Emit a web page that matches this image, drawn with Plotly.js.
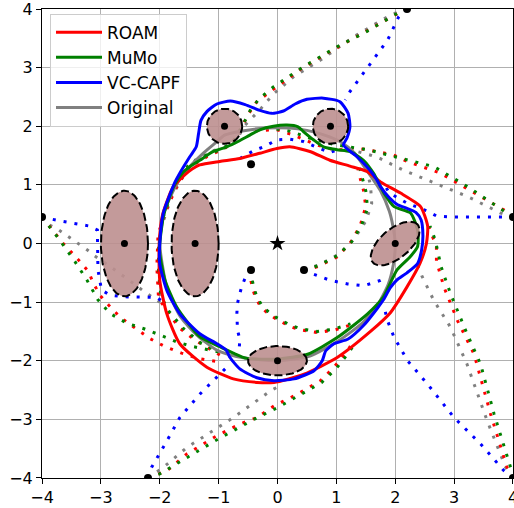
<!DOCTYPE html>
<html>
<head>
<meta charset="utf-8">
<script src="https://cdn.plot.ly/plotly-3.0.1.min.js"></script>
<style>html,body{margin:0;padding:0;background:#fff;}#chart{width:514px;height:508px;}</style>
</head>
<body>
<div id="chart"></div>
<script>
// ---------- obstacles (ellipses) ----------
const obsCx = [-2.6, -1.4, -0.9, 0.9, 0.0, 2.0];
const obsCy = [0.0, 0.0, 2.0, 2.0, -2.0, 0.0];
const obsA  = [0.4, 0.4, 0.3, 0.3, 0.5, 0.5];
const obsB  = [0.9, 0.9, 0.3, 0.3, 0.25, 0.25];
const obsAngle = [0, 0, 0, 0, 0, 40];

// ---------- start points and goal ----------
const startX = [-4, 2.2, 4, 4, -2.2, -0.45, 0.45, -0.45];
const startY = [0.45, 4, 0.45, -4, -4, -0.45, -0.45, 1.35];
const goalX = [0];
const goalY = [0];

// ---------- tick values ----------
const tickVals = [-4, -3, -2, -1, 0, 1, 2, 3, 4];

// ---------- boundaries (solid) ----------
const roamX = [-2.01,-1.95,-1.78,-1.6,-1.45,-1.32,-0.98,-0.64,-0.3,-0.01,0.21,0.55,0.89,1.23,1.52,1.75,2.09,2.43,2.55,2.53,2.42,2.2,1.91,1.58,1.02,0.45,-0.06,-0.35,-0.75,-1.2,-1.66,-1.88,-2.0,-2.01];
const roamY = [0.0,0.5,0.95,1.15,1.27,1.34,1.4,1.45,1.54,1.62,1.65,1.57,1.42,1.32,1.23,1.05,0.86,0.63,0.3,0.0,-0.34,-0.74,-1.19,-1.5,-1.94,-2.23,-2.37,-2.37,-2.31,-2.11,-1.71,-1.2,-0.63,0.0];

const mumoX = [-2.0,-1.93,-1.75,-1.6,-1.49,-1.32,-1.09,-0.86,-0.67,-0.47,-0.3,-0.07,0.16,0.35,0.44,0.61,0.78,1.01,1.23,1.46,1.63,1.81,1.98,2.26,2.38,2.38,2.25,2.03,1.8,1.53,1.02,0.51,0.0,-0.52,-0.75,-0.98,-1.32,-1.71,-1.91,-2.0,-2.0];
const mumoY = [0.0,0.5,1.0,1.22,1.31,1.42,1.57,1.65,1.74,1.85,1.94,2.0,2.02,1.99,1.91,1.77,1.65,1.6,1.57,1.42,1.2,0.86,0.63,0.52,0.23,-0.05,-0.23,-0.45,-0.91,-1.2,-1.6,-1.89,-1.97,-1.96,-1.87,-1.76,-1.59,-1.09,-0.63,-0.18,0.0];

const vcX = [-2.0,-1.94,-1.74,-1.66,-1.49,-1.38,-1.34,-1.3,-1.2,-1.03,-0.8,-0.55,-0.3,-0.1,0.1,0.3,0.5,0.78,1.06,1.2,1.23,1.18,1.12,1.35,1.57,1.69,1.75,1.9,2.04,2.2,2.35,2.44,2.47,2.45,2.38,2.2,2.03,1.92,1.8,1.7,1.46,1.2,0.96,0.82,0.76,0.62,0.28,-0.06,-0.35,-0.64,-0.81,-0.87,-1.03,-1.32,-1.66,-1.88,-2.0,-2.0];
const vcY = [0.0,0.52,1.05,1.2,1.48,1.65,1.88,2.1,2.25,2.38,2.43,2.37,2.27,2.22,2.26,2.38,2.46,2.48,2.42,2.22,1.99,1.8,1.68,1.48,1.25,1.08,0.97,0.78,0.66,0.6,0.53,0.4,0.15,-0.1,-0.34,-0.5,-0.62,-0.75,-0.96,-1.1,-1.4,-1.63,-1.71,-1.83,-2.0,-2.17,-2.31,-2.34,-2.29,-2.14,-1.94,-1.82,-1.71,-1.54,-1.2,-0.8,-0.35,0.0];

const origX = [-2.0,-1.92,-1.72,-1.5,-1.25,-1.05,-0.9,-0.6,-0.2,0.2,0.5,0.8,1.06,1.3,1.55,1.75,1.9,1.96,2.0,1.97,1.88,1.7,1.45,1.05,0.55,0.0,-0.58,-0.81,-1.03,-1.35,-1.65,-1.88,-2.0];
const origY = [0.0,0.55,1.0,1.3,1.55,1.72,1.85,1.92,1.97,1.97,1.93,1.85,1.74,1.55,1.2,0.9,0.55,0.3,0.0,-0.35,-0.7,-1.05,-1.35,-1.65,-1.92,-2.0,-1.95,-1.9,-1.82,-1.58,-1.25,-0.75,0.0];

// ---------- trajectories (dotted) ----------
// from A (-4, 0.45)
const aRoamX = [-4,-3.85,-3.64,-3.38,-3.21,-3.14,-3.02,-2.87,-2.68,-2.45,-2.17,-1.91,-1.63,-1.35,-1.0];
const aRoamY = [0.45,0.26,0.0,-0.28,-0.48,-0.65,-0.88,-1.05,-1.25,-1.42,-1.62,-1.76,-1.87,-1.96,-2.02];
const aMumoX = [-4,-3.88,-3.7,-3.44,-3.24,-3.05,-2.85,-2.56,-2.28,-2.0,-1.71,-1.43,-1.15,-1.0];
const aMumoY = [0.45,0.3,0.06,-0.31,-0.62,-0.96,-1.19,-1.36,-1.45,-1.56,-1.68,-1.76,-1.82,-1.85];
const aVcX = [-4,-3.84,-3.67,-3.38,-3.21,-3.06,-3.06,-3.05,-2.99,-2.85,-2.6,-2.39,-2.05,-1.98];
const aVcY = [0.45,0.41,0.38,0.33,0.3,0.23,-0.03,-0.45,-0.79,-0.88,-0.91,-0.91,-0.92,-0.97];
const aOrigX = [-4,-3.9,-3.73,-3.48,-3.23,-3.11,-2.86,-2.49,-2.25,-2.0,-1.9];
const aOrigY = [0.45,0.33,0.24,0.07,-0.11,-0.21,-0.38,-0.65,-0.83,-1.0,-1.1];

// from B (2.2, 4)
const bRoamX = [2.2,2.0,1.4,0.9,0.4,0.0,-0.35,-0.5,-0.6,-0.7,-0.9,-1.2,-1.5,-1.7,-1.9,-2.03,-2.05,-2.02,-1.88,-1.69,-1.4,-1.15,-0.9];
const bRoamY = [4,3.9,3.56,3.28,2.98,2.68,2.42,2.2,2.0,1.8,1.62,1.48,1.3,1.0,0.55,0.15,-0.4,-0.95,-1.13,-1.42,-1.65,-1.8,-1.95];
const bMumoX = [2.2,2.04,1.47,1.02,0.45,-0.06,-0.3,-0.45,-0.55,-0.64,-0.75,-0.98,-1.2,-1.43,-1.6,-1.8,-1.96,-2.02,-2.02,-1.98,-1.85,-1.6,-1.3,-1.0];
const bMumoY = [4,3.93,3.59,3.36,3.02,2.68,2.48,2.3,2.1,1.94,1.73,1.6,1.51,1.4,1.25,0.85,0.4,0.0,-0.5,-0.9,-1.15,-1.45,-1.7,-1.85];
const bVcX = [2.2,2.06,1.87,1.58,1.3,1.23,1.15];
const bVcY = [4,3.87,3.47,3.07,2.68,2.59,2.45];
const bOrigX = [2.2,1.92,1.3,0.73,0.28,-0.07,-0.3,-0.44,-0.55,-0.65,-0.8,-1.15,-1.37,-1.54,-1.8,-2.0,-2.02,-2.0];
const bOrigY = [4,3.9,3.53,3.13,2.85,2.55,2.28,2.14,2.02,1.85,1.66,1.57,1.45,1.25,0.8,0.2,-0.5,-1.0];

// from C (4, 0.45)
const cRoamX = [4,3.85,3.45,2.77,2.2,1.97,1.69,1.46,1.23,0.95,0.67,0.44,0.27,-0.01,-0.3,-0.5];
const cRoamY = [0.45,0.57,0.8,1.2,1.4,1.51,1.57,1.61,1.6,1.6,1.68,1.77,1.85,1.94,1.93,1.9];
const cMumoX = [4,3.82,3.23,2.66,2.09,1.53,1.0,0.6,0.2,-0.2];
const cMumoY = [0.45,0.57,0.97,1.31,1.45,1.6,1.68,1.78,1.92,1.98];
const cVcX = [4,3.79,3.0,2.7,2.55,2.2,1.9,1.8];
const cVcY = [0.45,0.45,0.45,0.47,0.55,0.69,0.86,1.03];
const cOrigX = [4,3.79,3.23,2.66,2.14,1.74,1.57,1.35,1.1];
const cOrigY = [0.45,0.52,0.8,1.03,1.25,1.45,1.51,1.57,1.6];

// from D (4, -4)
const dRoamX = [4,3.9,3.62,3.34,3.06,2.83,2.7,2.7,2.6,2.55];
const dRoamY = [-4,-3.82,-2.91,-1.89,-1.32,-0.75,-0.3,-0.05,0.2,0.35];
const dMumoX = [4,3.96,3.68,3.45,3.22,2.94,2.78,2.68,2.59];
const dMumoY = [-4,-3.82,-2.91,-2.06,-1.54,-0.86,-0.4,0.06,0.3];
const dVcX = [4,3.85,3.45,3.0,2.55,2.21,1.98,1.87,1.81];
const dVcY = [-4,-3.88,-3.42,-2.97,-2.4,-2.0,-1.6,-1.32,-1.08];
const dOrigX = [4,3.9,3.56,3.22,2.94,2.66,2.45,2.35];
const dOrigY = [-4,-3.88,-3.02,-2.06,-1.43,-0.98,-0.55,-0.3];

// from E (-2.2, -4)
const eRoamX = [-2.2,-1.88,-1.54,-1.03,-0.64,-0.35,-0.06,0.34,0.73,0.96,1.19,1.3];
const eRoamY = [-4,-3.88,-3.59,-3.28,-3.08,-2.97,-2.77,-2.57,-2.34,-2.11,-1.83,-1.65];
const eMumoX = [-2.2,-2.0,-1.5,-1.0,-0.4,0.0,0.35,0.75,1.0,1.22,1.33];
const eMumoY = [-4,-3.93,-3.63,-3.33,-3.0,-2.8,-2.6,-2.37,-2.13,-1.85,-1.68];
const eVcX = [-2.2,-2.14,-1.88,-1.66,-1.32,-1.03,-0.85];
const eVcY = [-4,-3.82,-3.37,-2.97,-2.57,-2.28,-2.1];
const eOrigX = [-2.2,-1.94,-1.54,-1.09,-0.75,-0.35,-0.1,0.1];
const eOrigY = [-4,-3.82,-3.48,-3.19,-2.97,-2.68,-2.5,-2.4];

// from F (-0.45, -0.45)
const fRoamX = [-0.45,-0.45,-0.42,-0.37,-0.29,-0.18,-0.05,0.09,0.2,0.37,0.52,0.67,0.96,1.24];
const fRoamY = [-0.45,-0.64,-0.78,-0.93,-1.07,-1.18,-1.27,-1.35,-1.41,-1.47,-1.5,-1.52,-1.48,-1.39];
const fMumoX = [-0.45,-0.43,-0.4,-0.35,-0.27,-0.16,-0.04,0.1,0.21,0.38,0.52,0.67,0.96,1.24];
const fMumoY = [-0.45,-0.62,-0.76,-0.91,-1.05,-1.16,-1.25,-1.33,-1.39,-1.45,-1.48,-1.5,-1.46,-1.37];
const fVcX = [-0.45,-0.55,-0.61,-0.65,-0.68,-0.69,-0.69,-0.68,-0.64,-0.65];
const fVcY = [-0.45,-0.59,-0.74,-0.88,-1.02,-1.19,-1.33,-1.48,-1.63,-1.79];
const fOrigX = [-0.45,-0.44,-0.41,-0.36,-0.28,-0.17,-0.05,0.09,0.2,0.37,0.51,0.66,0.95];
const fOrigY = [-0.45,-0.63,-0.77,-0.92,-1.06,-1.17,-1.26,-1.34,-1.4,-1.46,-1.49,-1.51,-1.47];

// from G (0.45, -0.45)
const gRoamX = [0.45,0.67,1.01,1.23,1.4,1.5,1.46,1.38,1.35];
const gRoamY = [-0.45,-0.4,-0.23,0.0,0.29,0.63,0.91,1.2,1.37];
const gMumoX = [0.45,0.69,1.03,1.26,1.43,1.53,1.5,1.42,1.37];
const gMumoY = [-0.45,-0.38,-0.2,0.03,0.32,0.6,0.9,1.2,1.38];
const gVcX = [0.45,0.6,0.9,1.19,1.47,1.75,1.85];
const gVcY = [-0.45,-0.52,-0.63,-0.69,-0.72,-0.63,-0.58];
const gOrigX = [0.45,0.72,1.06,1.3,1.5,1.6,1.58,1.5];
const gOrigY = [-0.45,-0.36,-0.17,0.08,0.38,0.68,1.0,1.3];

// from H (-0.45, 1.35)
const hVcX = [-0.64,-0.41,-0.21,-0.01,0.21,0.44,0.67,0.89,1.06];
const hVcY = [1.45,1.58,1.66,1.77,1.78,1.74,1.64,1.55,1.62];

const RED = '#ff0000', GREEN = '#008000', BLUE = '#0000ff', GRAY = '#808080';
const DOT = '3px,8px';
const traces = [];

function dotted(x, y, c) {
  traces.push({x: x, y: y, type: 'scatter', mode: 'lines', showlegend: false, hoverinfo: 'skip',
    line: {color: c, width: 3, dash: DOT}});
}
[[aOrigX,aOrigY],[bOrigX,bOrigY],[cOrigX,cOrigY],[dOrigX,dOrigY],[eOrigX,eOrigY],[fOrigX,fOrigY],[gOrigX,gOrigY]].forEach(p => dotted(p[0], p[1], GRAY));
[[aRoamX,aRoamY],[bRoamX,bRoamY],[cRoamX,cRoamY],[dRoamX,dRoamY],[eRoamX,eRoamY],[fRoamX,fRoamY],[gRoamX,gRoamY]].forEach(p => dotted(p[0], p[1], RED));
[[aMumoX,aMumoY],[bMumoX,bMumoY],[cMumoX,cMumoY],[dMumoX,dMumoY],[eMumoX,eMumoY],[fMumoX,fMumoY],[gMumoX,gMumoY]].forEach(p => dotted(p[0], p[1], GREEN));
[[aVcX,aVcY],[bVcX,bVcY],[cVcX,cVcY],[dVcX,dVcY],[eVcX,eVcY],[fVcX,fVcY],[gVcX,gVcY],[hVcX,hVcY]].forEach(p => dotted(p[0], p[1], BLUE));

function solid(x, y, c, name, rank) {
  traces.push({x: x, y: y, type: 'scatter', mode: 'lines', name: name, legendrank: rank,
    line: {color: c, width: 3, shape: 'spline', smoothing: 0.6}});
}
solid(origX, origY, GRAY, 'Original', 4);
solid(roamX, roamY, RED, 'ROAM', 1);
solid(mumoX, mumoY, GREEN, 'MuMo', 2);
solid(vcX, vcY, BLUE, 'VC-CAPF', 3);

// obstacles
for (let i = 0; i < obsCx.length; i++) {
  const ex = [], ey = [];
  const th = obsAngle[i] * Math.PI / 180;
  for (let k = 0; k <= 120; k++) {
    const t = 2 * Math.PI * k / 120;
    const u = obsA[i] * Math.cos(t), v = obsB[i] * Math.sin(t);
    ex.push(obsCx[i] + u * Math.cos(th) - v * Math.sin(th));
    ey.push(obsCy[i] + u * Math.sin(th) + v * Math.cos(th));
  }
  traces.push({x: ex, y: ey, type: 'scatter', mode: 'lines', fill: 'toself',
    fillcolor: 'rgba(188,143,143,0.9)', showlegend: false, hoverinfo: 'skip',
    line: {color: '#000', width: 2, dash: '8px,3.5px'}});
}
traces.push({x: obsCx, y: obsCy, type: 'scatter', mode: 'markers', showlegend: false,
  marker: {color: '#000', size: 7}});
traces.push({x: startX, y: startY, type: 'scatter', mode: 'markers', showlegend: false,
  marker: {color: '#000', size: 8}});
traces.push({x: goalX, y: goalY, type: 'scatter', mode: 'markers', showlegend: false,
  marker: {color: '#000', size: 12, symbol: 'star'}});

const axisCommon = {
  range: [-4.0005, 4.0005], tickmode: 'array', tickvals: tickVals,
  ticklabeloverflow: 'allow',
  showgrid: true, gridcolor: '#b0b0b0', gridwidth: 1,
  zeroline: false, showline: true, mirror: true, linecolor: '#000', linewidth: 1,
  ticks: 'outside', ticklen: 5, tickcolor: '#000', tickwidth: 1,
  tickfont: {family: 'DejaVu Sans', size: 16, color: '#000'}
};

const layout = {
  width: 514, height: 508,
  margin: {l: 42, r: 1, t: 9, b: 30},
  paper_bgcolor: '#fff', plot_bgcolor: '#fff',
  font: {family: 'DejaVu Sans', color: '#000'},
  xaxis: Object.assign({}, axisCommon),
  yaxis: Object.assign({}, axisCommon),
  legend: {x: 0.017, y: 0.99, xanchor: 'left', yanchor: 'top', itemwidth: 46,
    bgcolor: 'rgba(255,255,255,0.8)', bordercolor: '#cccccc', borderwidth: 1,
    font: {family: 'DejaVu Sans', size: 17, color: '#000'}},
  showlegend: true
};

Plotly.newPlot('chart', traces, layout, {displayModeBar: false, staticPlot: true});
</script>
</body>
</html>
